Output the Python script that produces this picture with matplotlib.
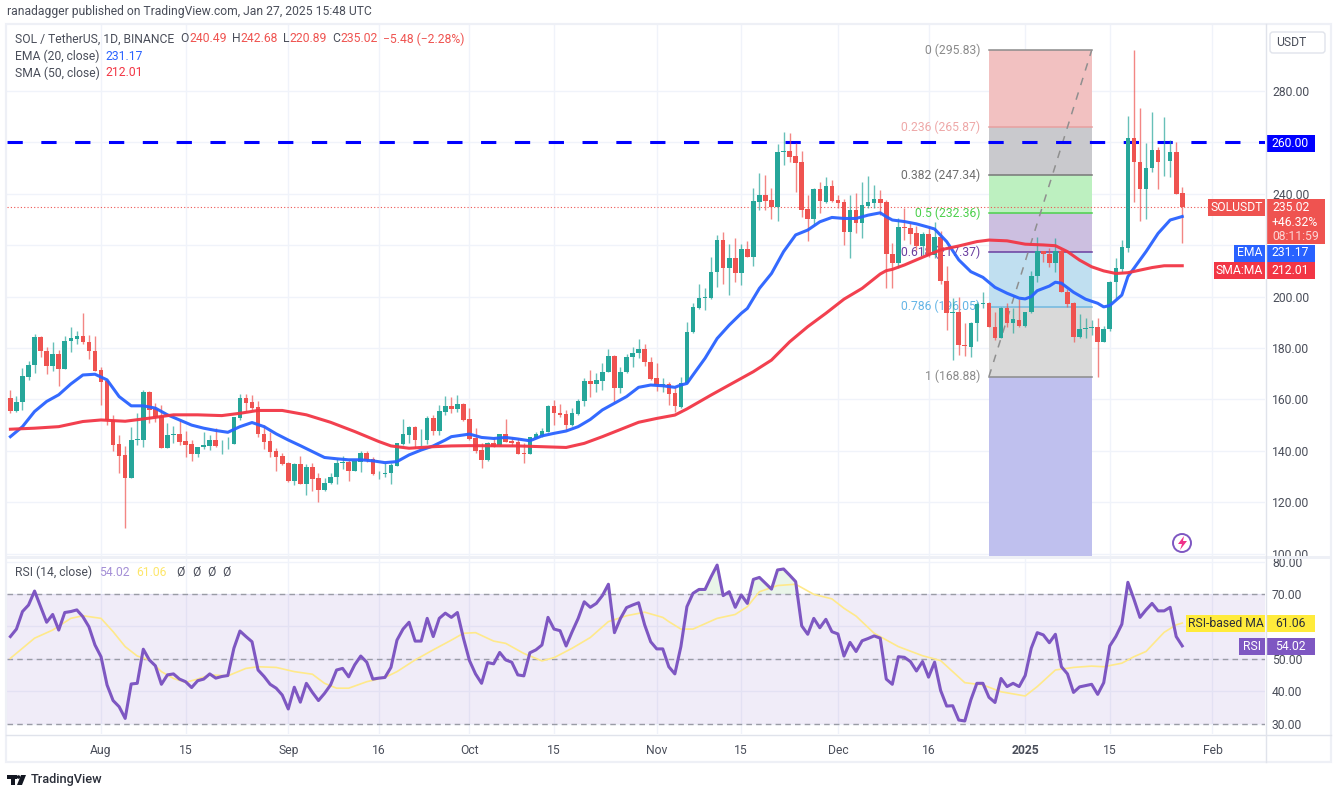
#!/usr/bin/env python3
"""SOL/USDT daily candles with EMA, SMA, fib retracement and RSI pane."""
import matplotlib
matplotlib.use("Agg")
import matplotlib.pyplot as plt
import numpy as np
import pandas as pd
from matplotlib.patches import Circle, FancyBboxPatch, Polygon, Rectangle

plt.rcParams["font.family"] = ["Roboto", "DejaVu Sans"]

W, H = 1338, 794
FS = 8.7
TEXT = "#4a4e5a"
UP = "#26a69a"
DOWN = "#ef5350"
EMA_C = "#2962ff"
SMA_C = "#f23645"
RSI_C = "#7e57c2"
RSI_MA_C = "#ffe98a"

start = pd.Timestamp("2024-07-17")

opens = [160.4, 155.3, 158.9, 168.9, 173.4, 184.4, 178.9, 173, 177.7, 171.7,
         182.6, 183.4, 184.8, 182.5, 178.9, 171.5, 167.2, 152, 142.5, 138.4,
         129.3, 144.2, 144.2, 162.9, 156.2, 153.6, 141.2, 146.2, 146.4, 143.8,
         142.5, 138.8, 141.5, 141.9, 144.2, 142.1, 142.9, 142.6, 152.9, 160.4,
         158.9, 156.9, 146.5, 143.7, 139.8, 137.9, 135.1, 128.2, 134.7, 126.9,
         133.6, 129.3, 124.6, 127.3, 129.8, 135.1, 135.8, 132.1, 135.6, 139,
         136.9, 130.8, 131.1, 131.2, 134.1, 142.6, 146.1, 149.3, 144.4, 144.2,
         152.6, 147.7, 155.1, 157.4, 156.3, 158.2, 152.2, 144.8, 140.3, 136.4,
         142.9, 142.1, 146.4, 143.7, 143.3, 139.1, 138.8, 145, 145.8, 147.3,
         157.4, 154.6, 154.2, 150, 154.3, 159.5, 167.2, 165.9, 167.3, 170.5,
         176.9, 164.4, 170.5, 176.4, 177.9, 179.5, 174.4, 168.2, 165.6, 166,
         162.4, 157.2, 166.2, 186.1, 195.7, 199.5, 199.3, 209.4, 222, 211,
         214.9, 209, 218.4, 215.5, 236.9, 239.5, 237.6, 234.7, 256.2, 256.6,
         254.7, 252.4, 233.9, 230.2, 241.7, 236.9, 243, 237.6, 236.7, 225.2,
         233.7, 228.8, 235.3, 236.4, 237.8, 236.7, 216.5, 213, 227, 226.6,
         224.7, 219.7, 224.3, 216, 223.1, 206.2, 193.5, 194.2, 181.2, 180.3,
         189.6, 197, 197.4, 188.3, 183.8, 195.7, 189.6, 191, 188.7, 193.9,
         208.1, 217.9, 216.4, 213, 217.9, 201.9, 197.4, 184.4, 187.4, 187.8,
         188.3, 182.5, 187.4, 205.8, 210.8, 219.1, 261.8, 252.5, 241.7, 249.9,
         257, 253, 252.9, 256.4, 240.49]

highs = [163.7, 161.3, 172.4, 175, 185.3, 184.7, 180.5, 182.5, 179.2, 184.7,
         188.3, 186.8, 193.8, 185.1, 184.8, 172.8, 167.6, 154, 146.2, 142,
         149.4, 154.6, 163.7, 163.4, 158.5, 157.8, 150.7, 149.7, 152, 147.7,
         144.2, 141.6, 147.2, 146.2, 148.7, 144.2, 145.2, 153.3, 162.1, 162,
         161.7, 159.4, 150, 147.2, 141, 139, 135.8, 135.1, 138, 134.7,
         135.1, 131.5, 129.3, 131.5, 136.7, 137.8, 136.4, 136.4, 139.9, 139.9,
         137.5, 132.3, 135.1, 135.1, 143.2, 152.4, 149.8, 149.8, 148.5, 153.7,
         153.9, 157.8, 161.5, 161, 161.7, 158.5, 156.5, 148.7, 143, 143.5,
         145.2, 146.4, 152.4, 145.2, 144.8, 142.9, 145.5, 147.4, 148.7, 157.7,
         159.8, 158.1, 155.9, 156.5, 160, 168.5, 171.4, 170.4, 174.3, 179.5,
         177.3, 172.5, 177.7, 180.3, 183.4, 181.4, 176.4, 174, 168.2, 166.9,
         165, 168.8, 190.2, 197.5, 204.8, 203.2, 215.5, 224, 225, 220.3,
         222.7, 220.4, 221.7, 242.1, 248.2, 247.3, 242.1, 259.4, 264.2, 263.8,
         259.6, 256.8, 239.5, 242.4, 244.7, 246.4, 245.4, 239.5, 237.8, 239.5,
         240.4, 244.4, 246.9, 243.4, 241.5, 237.4, 220.8, 230.5, 234.4, 228.6,
         227.5, 225.3, 227.5, 228.9, 225.7, 212, 199.6, 199.8, 189.6, 190.2,
         198, 201.6, 198, 194.2, 196.1, 197.4, 195.7, 199.1, 194.2, 210,
         223, 217.9, 218.8, 222.9, 218.5, 203, 198, 193.1, 191.5, 190.9,
         191.8, 188.7, 206.1, 214.9, 222, 270.4, 295.83, 273.3, 259.9, 272,
         258.3, 270, 260.9, 260.3, 242.68]

lows = [154.6, 155, 155.9, 167.6, 170.4, 176.6, 169.8, 171.1, 165.4, 171.7,
        178.3, 181.6, 181.6, 175.6, 171.2, 157.8, 150, 140, 131.2, 109.9,
        129.3, 142.3, 141.6, 151, 151.4, 141.2, 141.2, 142.9, 142.3, 137.5,
        136, 137.7, 140.7, 140.3, 141.6, 138.8, 140.6, 142.6, 152, 155.5,
        155.9, 145.2, 140.7, 137.7, 132.1, 134.5, 128, 126.7, 127, 122.8,
        124.5, 120, 124.4, 127, 127, 132.8, 128.2, 132.1, 131.8, 135.6,
        130.6, 129, 129.9, 127, 134.1, 142.3, 142.9, 141.2, 141.9, 142.6,
        146.1, 146.1, 153.9, 154.6, 155.2, 151.7, 144.2, 139, 133.2, 136.2,
        141.6, 142, 143.3, 142, 138.8, 135.4, 138.8, 144.8, 145.5, 147.3,
        150, 153, 148.1, 149.6, 153.9, 157.4, 161.1, 163, 163.7, 170.5,
        159.1, 162.4, 170.4, 172.5, 176, 173.1, 167.5, 163.4, 163, 157.8,
        155.2, 156.5, 166.2, 185.7, 195.2, 194.8, 198.9, 203.8, 204.8, 200.6,
        205.8, 204.5, 215.3, 211.9, 233.7, 233.7, 230.2, 229.4, 251.2, 252.5,
        240.8, 231.1, 221.7, 227.9, 232.6, 236.5, 236.9, 234.3, 220, 215.1,
        224.6, 222.9, 234.3, 234.3, 231.7, 203.3, 203.3, 211.3, 222, 220.5,
        218.2, 216.2, 215.6, 215, 204.8, 187, 175.2, 177.3, 176.7, 176.4,
        182.8, 195.5, 188.1, 183.2, 183.8, 188.3, 185.7, 188.3, 188.3, 193.5,
        205.8, 213.6, 211.6, 209.7, 201.9, 196.1, 182.2, 183.8, 184, 185,
        168.88, 182.2, 186.6, 199.3, 209.7, 217.5, 236.7, 229.5, 230.1, 248.4,
        241.9, 247, 246.4, 239.9, 220.89]

closes = [155.3, 158.9, 169.1, 173.4, 184.4, 178.9, 173, 177.7, 171.7, 182.9,
          183.7, 184.7, 182.2, 178.9, 171.2, 166.9, 152, 142.3, 138, 129.3,
          144.2, 144.6, 163, 155.9, 153.3, 141.2, 146.2, 146.6, 143.3, 142.3,
          138.8, 141.6, 142.1, 144.1, 141.9, 142.4, 143.1, 153.3, 160.4, 158.7,
          156.8, 146.5, 143.4, 139.5, 137.6, 134.9, 128.2, 134.7, 127, 133.6,
          128.9, 124.7, 127.6, 129.9, 135.1, 135.6, 132.1, 136, 139, 136.3,
          130.8, 131.1, 131.5, 134.3, 142.9, 146.4, 149.3, 144.2, 144.6, 152.6,
          147.7, 155.4, 157.4, 156.3, 158.2, 152, 144.6, 140, 136.4, 142.9,
          141.6, 146.4, 143.6, 143, 138.8, 138.9, 145.2, 146.5, 147.7, 157.4,
          154.6, 153.9, 150, 154.6, 159.5, 167.2, 165.9, 167.5, 170.7, 176.9,
          164.4, 170.7, 176.6, 178.2, 179.5, 174.4, 167.8, 165.6, 165.9, 162.1,
          157.4, 166.2, 186.3, 196.1, 199.6, 199.7, 209.7, 222, 211.2, 214.9,
          209.3, 218.4, 215.5, 237.2, 239.5, 237.2, 234.7, 256.4, 256.6, 254.4,
          252.1, 233.7, 230.2, 241.7, 237.2, 243, 237.2, 236.5, 225.2, 233.7,
          228.8, 235.6, 236.9, 237.8, 236.5, 216.5, 213.2, 227, 226.6, 224.4,
          219.7, 224.4, 216, 223.1, 206.1, 193.5, 194.1, 181.2, 180.6, 189.9,
          197, 197.4, 188.1, 183.8, 195.7, 189.6, 191.3, 188.6, 194.2, 208.2,
          217.9, 216.4, 213, 217.9, 201.9, 197, 184.4, 187.4, 187.9, 188.2,
          182.5, 187.4, 205.8, 211, 219.2, 261.8, 252.2, 241.7, 249.9, 257,
          252.5, 253.2, 256.4, 239.9, 235.02]

# line studies are read at knots, (candle number, value)
ema_idx = [0, 2, 4, 6, 8, 10, 12, 14, 16, 18, 20, 22, 24, 26, 28, 30, 32, 34, 36, 38,
           40, 42, 44, 46, 48, 50, 52, 54, 56, 58, 60, 62, 64, 66, 68, 70, 72, 73,
           76, 78, 80, 82, 84, 86, 88, 90, 92, 94, 96, 98, 100, 102, 104, 106, 108, 110, 111,
           112, 113, 115, 117, 119, 121, 122, 124, 126, 128, 130, 132, 134, 136, 138, 140,
           142, 144, 145, 146, 148, 150, 152, 153, 155, 157, 159, 161, 163, 165, 167, 168,
           169, 170, 172, 173, 174, 176, 178, 180, 181, 182, 184, 185, 186, 188, 190, 192, 194]
ema_vals = [145.5, 149.4, 155.3, 159.2, 161.8, 166, 169.5, 169.8, 167.6, 161.1, 157.5, 157.5,
            156.6, 154, 152, 150, 148.8, 147.9, 147.2, 149.4, 151, 149.4, 146.6, 144.2, 142,
            139.7, 137.4, 136.9, 136.5, 136.5, 136.1, 135.4, 135.8, 138.4, 140.3, 141.9, 144.2, 145.5,
            146.5, 145.2, 144.8, 145.2, 144.6, 143.9, 145.8, 146.8, 147.7, 149.4, 152.2, 155.9,
            158.5, 161.1, 164.7, 165.6, 165.3, 164.7, 165.6,
            166.2, 169.5, 176, 183.7, 188.9, 193.5, 195.4, 203.2, 209, 217.5, 224, 225.9, 229.1,
            230.8, 230.4, 230.4, 231.7, 232.6, 231.1, 229.8, 229.2, 228.3, 227, 226.3, 221.4, 214.3,
            209.7, 207.5, 203.6, 201.3, 199.4, 199.1, 200, 202.3, 204.1, 205.6, 205.2, 201.7, 199,
            197.4, 196, 196.5, 200.6, 207.8, 211, 217.5, 224.6, 229.8, 231.17]

sma_idx = [0, 4, 8, 12, 15, 19, 23, 27, 31, 35, 38, 41, 45, 49, 53, 57, 61, 63, 66, 70, 73,
           76, 84, 88, 92, 95, 98, 101, 104, 107, 110, 112, 116, 120, 123, 126, 129, 132, 135,
           138, 141, 144, 145, 146, 148, 151, 154, 157, 160, 162, 165, 168, 171, 173, 175, 177,
           179, 181, 183, 185, 187, 189, 191, 194]
sma_vals = [148.4, 148.8, 149.4, 151.4, 152, 151.5, 152.7, 154, 154, 153.7, 154.6, 155.7, 155.7,
            154, 151.1, 147.5, 143.6, 141.9, 141, 141.6, 141.9,
            142, 141.9, 141.6, 141.3, 142.9, 145.5, 148.3, 151.1, 152.6, 153.9, 156.3, 161.7, 166.9,
            170.8, 175.3, 182.4, 188.3, 193.5, 199, 203.2, 208.8, 210.1, 210.6, 212.3, 215.3, 218.2,
            219.7, 221.4, 222, 221.7, 220.4, 220.1, 219.8, 217.5, 214.2, 211.6, 210, 209, 209.3,
            210.3, 211.3, 212, 212.01]

rsi_vals = [56.9, 59.2, 64.6, 66.6, 70.9, 66.1, 61.3, 63.7, 58.9, 64.3,
            64.6, 65.1, 63, 59.9, 54.3, 50.7, 42, 37.2, 35.3, 31.7,
            42.3, 42.5, 53, 49.7, 47.9, 42.2, 45.1, 45.4, 43.8, 43,
            41.2, 43.3, 43.8, 45.4, 44.1, 44.6, 44.9, 53.3, 58.6, 56.9,
            55.3, 46.6, 44.6, 42.2, 41, 38.9, 34.6, 41.3, 36.7, 42.5,
            39.7, 37.2, 39.4, 42, 46.6, 47.1, 44.5, 48.2, 50.9, 49,
            43.8, 44.1, 44.3, 47.4, 55.8, 59.2, 61.3, 55.5, 55.5, 62.5,
            56.9, 62.5, 64.1, 62.8, 64.3, 56.4, 49.5, 45.4, 42.5, 48.9,
            48.5, 52, 49.7, 49, 45.1, 44.8, 51.9, 52.8, 54.3, 62.8,
            59.2, 58.7, 54, 58.4, 62.5, 67.6, 65.9, 67.1, 69.5, 73,
            58.1, 62.5, 65.8, 66.6, 67.3, 60.5, 55.3, 53.1, 53.1, 47.6,
            45.4, 53.8, 66.1, 70.2, 71.4, 71.4, 75.3, 78.9, 69.5, 70.7,
            65.9, 69.7, 67.1, 74.5, 75.1, 73.3, 71.5, 77.4, 77.7, 75.8,
            73.8, 60.2, 57.6, 62.5, 59.6, 62.2, 58.4, 57.7, 50.9, 55.1,
            52.3, 55.6, 56.3, 57.1, 56.4, 43.8, 42.2, 50.7, 50.5, 49.2,
            46.3, 49.2, 44.4, 49, 40.3, 35.5, 35.6, 31.2, 30.9, 37.4,
            42.5, 42.5, 38.2, 36.6, 44, 41.5, 42.5, 41.5, 44.9, 53.3,
            58.1, 57.4, 55, 57.6, 47.6, 45.4, 39.7, 41.4, 41.8, 42.2,
            39.1, 42.7, 54, 56.9, 60.7, 73.6, 68.4, 62.8, 65.1, 67.1,
            64.8, 64.8, 65.9, 56.9, 54.02]

rsi_ma_idx = [0, 2, 4, 7, 10, 12, 15, 17, 19, 21, 23, 25, 27, 29, 31, 33, 36, 39, 41, 44, 47, 50,
              52, 54, 56, 59, 62, 64, 67, 70, 73, 75, 77, 80, 82, 85, 88, 90, 93, 96, 99, 102, 105,
              108, 109, 111, 113, 117, 120, 122, 124, 127, 130, 133, 136, 138, 140, 143, 147, 151,
              154, 156, 158, 161, 164, 168, 170, 173, 176, 179, 181, 184, 186, 188, 191, 193, 194]
rsi_ma_vals = [50.2, 53.3, 56.4, 58.9, 62.5, 63.3, 62.5, 58.4, 53.8, 50.9, 49.7, 46.1, 44, 42.8, 43.8,
               45.1, 44.8, 47.1, 47.6, 47.4, 46.1, 45.3, 42.5, 41, 41, 43, 44.3, 46.1, 49.7, 52.8, 55.8,
               57.9, 58.1, 55.5, 54.8, 51.7, 49.4, 50.4, 53.3, 56.6, 61.5, 63.3, 64.4, 62.8, 61.5, 59.2,
               59.2, 62.5, 63.7, 66.1, 70.7, 72.6, 73, 69.9, 68.5, 65.6, 63.2, 57.9, 53.8, 51, 49.5, 46.1,
               42.7, 42, 39.9, 38.6, 41.5, 46.6, 47.4, 47.8, 47.6, 48.7, 50.7, 52.3, 58.2, 60.5, 61.06]

price_ticks = [100, 120, 140, 160, 180, 200, 220, 240, 260, 280]
rsi_ticks = [30, 40, 50, 60, 70, 80]
hidden_ticks = [220, 260, 60]  # covered by the price tags in the reference
date_ticks = ["2024-08-01", "2024-08-15", "2024-09-01", "2024-09-16", "2024-10-01", "2024-10-15",
              "2024-11-01", "2024-11-15", "2024-12-01", "2024-12-16", "2025-01-01", "2025-01-15",
              "2025-02-01"]
date_labels = ["Aug", "15", "Sep", "16", "Oct", "15", "Nov", "15", "Dec", "16", "2025", "15", "Feb"]

fib_start, fib_end = "2024-12-26", "2025-01-12"
fib_ratios = ["0", "0.236", "0.382", "0.5", "0.618", "0.786", "1"]
fib_levels = [295.83, 265.87, 247.34, 232.36, 217.37, 196.05, 168.88]
fib_fills = ["#f2c1c1", "#c9c9cd", "#bdf0c0", "#ccbfe0", "#c0dff0", "#d9d9d9", "#bfc0ee"]
fib_lines = ["#8c8c8c", "#e8a0a0", "#777777", "#4cd04c", "#6a3fa0", "#70b8e0", "#8c8c8c"]
fib_texts = ["#8a8a8a", "#eea8a8", "#6e6e6e", "#4cd04c", "#6a3fa0", "#64b5e6", "#8a8a8a"]

resistance = 260.0
pct_change = "+46.32%"
countdown = "08:11:59"


def axes_box(x0, y0, x1, y1):
    return [x0 / W, 1 - y1 / H, (x1 - x0) / W, (y1 - y0) / H]


def tick_text(ticks):
    return ["" if t in hidden_ticks else f"{t:.2f}" for t in ticks]


def tag(ov, x0, y0, x1, y1, color, label=None, text_color="white", weight="normal"):
    ov.add_patch(Rectangle((x0, y0), x1 - x0, y1 - y0, fc=color, ec="none"))
    if label:
        ov.text((x0 + x1) / 2, (y0 + y1) / 2, label, color=text_color, fontsize=FS,
                ha="center", va="center", weight=weight)


n = len(closes)
x = np.arange(n)
to_x = lambda d: (pd.Timestamp(d) - start).days
tick_x = [to_x(d) for d in date_ticks]

fig = plt.figure(figsize=(W / 100, H / 100), dpi=100, facecolor="white")
ax = fig.add_axes(axes_box(7, 25, 1265, 556))
ax_rsi = fig.add_axes(axes_box(7, 558, 1265, 734))

xlim = (-0.563, 207.7)
ax.set_xlim(*xlim)
ax.set_ylim(99.07, 305.68)
ax_rsi.set_xlim(*xlim)
ax_rsi.set_ylim(26.9, 81.08)

for a in (ax, ax_rsi):
    for s in a.spines.values():
        s.set_visible(False)
    a.set_xticks(tick_x)
    a.grid(True, color="#f0f3fa", lw=1, zorder=0)
    a.set_axisbelow(True)
    a.yaxis.tick_right()
    a.tick_params(length=0, labelsize=FS, labelcolor=TEXT, pad=5.0)

ax.set_yticks(price_ticks, tick_text(price_ticks))
ax.tick_params(labelbottom=False)
ax_rsi.set_yticks(rsi_ticks, tick_text(rsi_ticks))
ax_rsi.set_xticks(tick_x, date_labels)
ax_rsi.tick_params(axis="x", pad=7.5)
for lab in ax_rsi.get_xticklabels():
    if lab.get_text() == "2025":
        lab.set_fontweight("bold")

# fib retracement sits under the candles
fx0, fx1 = to_x(fib_start), to_x(fib_end)
bottoms = fib_levels[1:] + [ax.get_ylim()[0]]
for top, bot, c in zip(fib_levels, bottoms, fib_fills):
    ax.fill_between([fx0, fx1], bot, top, color=c, lw=0, zorder=1)
for r, lvl, lc, tc in zip(fib_ratios, fib_levels, fib_lines, fib_texts):
    ax.plot([fx0, fx1], [lvl, lvl], color=lc, lw=1.1, zorder=1.5)
    ax.annotate(f"{r} ({lvl:.2f})", (fx0, lvl), xytext=(-6.3, 0), textcoords="offset points",
                ha="right", va="center", fontsize=FS, color=tc, zorder=1.6)
ax.plot([fx0, fx1], [fib_levels[-1], fib_levels[0]], color="#8f8f8f", lw=1.1,
        dashes=(5, 5), zorder=1.7)

ax.axhline(resistance, color="#0000ff", lw=2.2, dashes=(5, 6.07), dash_capstyle="butt", zorder=2)
ax.axhline(closes[-1], color=DOWN, lw=0.8, ls=(0, (1, 2)), zorder=2)

colors = [UP if c >= o else DOWN for o, c in zip(opens, closes)]
ax.vlines(x, lows, highs, colors=colors, lw=1.0, alpha=0.7, zorder=3)
ax.bar(x, np.abs(np.array(closes) - np.array(opens)), bottom=np.minimum(opens, closes),
       width=0.76, color=colors, lw=0, zorder=4)
ax.plot(ema_idx, ema_vals, color=EMA_C, lw=2.2, alpha=0.95, zorder=5, solid_joinstyle="round")
ax.plot(sma_idx, sma_vals, color=SMA_C, lw=2.2, alpha=0.95, zorder=5, solid_joinstyle="round")

rsi = np.array(rsi_vals)
ax_rsi.axhspan(30, 70, color=RSI_C, alpha=0.11, lw=0, zorder=1)
for lvl in (70, 50, 30):
    ax_rsi.axhline(lvl, color="#9a9ca6", lw=1, dashes=(4, 3), zorder=2)
ax_rsi.fill_between(x, 70, rsi, where=rsi > 70, color="#4caf50", alpha=0.12, lw=0,
                    interpolate=True, zorder=2)
ax_rsi.plot(rsi_ma_idx, rsi_ma_vals, color=RSI_MA_C, lw=1.2, zorder=3)
ax_rsi.plot(x, rsi, color=RSI_C, lw=2.2, zorder=4, solid_joinstyle="round")

# everything else is placed in pixels on a transparent overlay
ov = fig.add_axes([0, 0, 1, 1], zorder=10)
ov.set_xlim(0, W)
ov.set_ylim(H, 0)
ov.axis("off")

ov.add_patch(Rectangle((6, 24), 1325, 738, fc="none", ec="#eef0f6", lw=1.6))
ov.plot([1265.5, 1265.5], [24, 762], color="#e0e3eb", lw=1)
ov.plot([6, 1331], [734.5, 734.5], color="#e0e3eb", lw=1)
ov.add_patch(Rectangle((6, 555.5), 1325, 3, fc="#eef0f6", ec="none"))

ov.text(7, 12, "ranadagger published on TradingView.com, Jan 27, 2025 15:48 UTC",
        fontsize=FS, color=TEXT, va="center")


def legend_row(y, parts):
    for px, s, c in parts:
        ov.text(px, y, s, fontsize=FS, color=c, va="center")


legend_row(39, [(15, "SOL / TetherUS, 1D, BINANCE", TEXT), (180, "O", TEXT),
                (189, f"{opens[-1]:.2f}", DOWN), (232, "H", TEXT), (240, f"{highs[-1]:.2f}", DOWN),
                (283, "L", TEXT), (289, f"{lows[-1]:.2f}", DOWN), (332, "C", TEXT),
                (340, f"{closes[-1]:.2f}", DOWN), (383, "−5.48 (−2.28%)", DOWN)])
legend_row(56, [(15, "EMA (20, close)", TEXT), (105, f"{ema_vals[-1]:.2f}", EMA_C)])
legend_row(73, [(15, "SMA (50, close)", TEXT), (105, f"{sma_vals[-1]:.2f}", SMA_C)])
legend_row(572, [(15, "RSI (14, close)", TEXT), (99, f"{rsi_vals[-1]:.2f}", "#a48fd6"),
                 (136, f"{rsi_ma_vals[-1]:.2f}", "#fde66a"), (176, "Ø", TEXT), (192, "Ø", TEXT),
                 (207, "Ø", TEXT), (222, "Ø", TEXT)])

ov.add_patch(FancyBboxPatch((1270, 32), 55, 21, boxstyle="round,pad=0,rounding_size=3",
                            fc="white", ec="#e0e3eb", lw=1))
ov.text(1291, 42.5, "USDT", fontsize=FS, color=TEXT, ha="center", va="center")

tag(ov, 1266, 135, 1315, 152, "#0000ff", f"{resistance:.2f}")
tag(ov, 1208, 199, 1265, 216, DOWN, "SOLUSDT")
tag(ov, 1266, 199, 1325, 244, DOWN)
ov.text(1272, 207.5, f"{closes[-1]:.2f}", fontsize=FS, color="white", va="center")
ov.text(1272, 222, pct_change, fontsize=FS, color="white", va="center")
ov.text(1272, 236, countdown, fontsize=FS, color="#fbd6d5", va="center")
tag(ov, 1234, 244.5, 1265, 261.5, EMA_C, "EMA")
tag(ov, 1266, 244.5, 1315, 261.5, EMA_C, f"{ema_vals[-1]:.2f}")
tag(ov, 1214, 262, 1265, 279, SMA_C, "SMA:MA")
tag(ov, 1266, 262, 1315, 279, SMA_C, f"{sma_vals[-1]:.2f}")
tag(ov, 1186, 615, 1265, 632, "#ffeb3b", "RSI-based MA", text_color="#2a2e39")
tag(ov, 1266, 615, 1315, 632, "#ffeb3b", f"{rsi_ma_vals[-1]:.2f}", text_color="#2a2e39")
tag(ov, 1239, 638, 1265, 655, RSI_C, "RSI")
tag(ov, 1266, 638, 1315, 655, RSI_C, f"{rsi_vals[-1]:.2f}")

# lightning badge
ov.add_patch(Circle((1182, 543), 9, fc="white", ec="#7e57c2", lw=1.4))
ov.add_patch(Polygon([(1184, 536), (1178, 544), (1182, 544), (1180, 550), (1187, 541), (1183, 541)],
                     fc="#f0308a", ec="none"))

# TradingView logo
ov.add_patch(Rectangle((7, 775), 10, 3.5, fc="#131722", ec="none"))
ov.add_patch(Rectangle((11, 775), 4, 10, fc="#131722", ec="none"))
ov.add_patch(Circle((18.5, 777), 1.8, fc="#131722", ec="none"))
ov.add_patch(Polygon([(21, 775), (26, 775), (22, 785), (17, 785)], fc="#131722", ec="none"))
ov.text(31, 780, "TradingView", fontsize=9.2, color="#2a2e39", va="center", weight="medium")

fig.savefig("out.png", dpi=100)
plt.close(fig)
